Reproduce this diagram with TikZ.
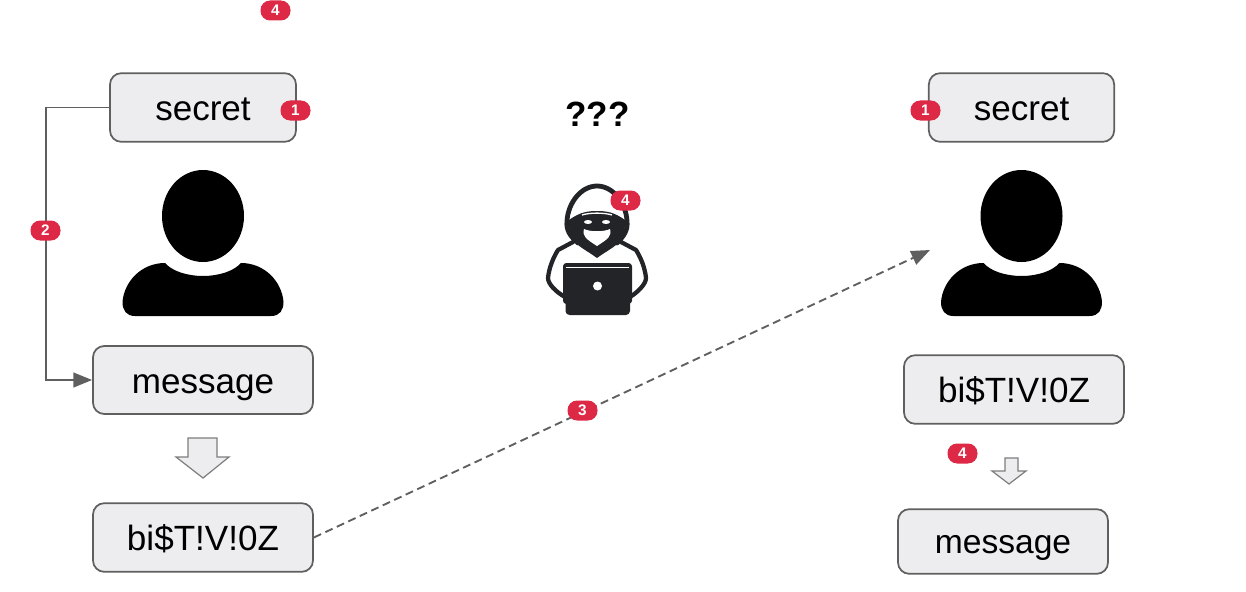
\documentclass[tikz,border=0pt]{standalone}
\usepackage{fontspec}
\setmainfont{Liberation Sans}
\usetikzlibrary{arrows.meta}
\definecolor{msgred}{RGB}{221,40,70}
\definecolor{msgfill}{RGB}{237,237,239}
\definecolor{msgline}{RGB}{95,95,95}
\definecolor{msgarrow}{RGB}{125,125,125}
\definecolor{msgblack}{RGB}{34,36,40}
\tikzset{
  msgbox/.style={draw=msgline, line width=1.3pt, fill=msgfill, rounded corners=8.5pt,
    inner sep=0pt, text=black, text height=20pt, text depth=0pt,
    font=\fontsize{26.3}{30}\selectfont},
  badge/.style={fill=msgred, rounded corners=7.2pt, minimum width=22.5pt, minimum height=15pt,
    inner sep=0pt, text=white, font=\fontsize{11.5}{12}\bfseries\selectfont},
  link/.style={draw=msgline, line width=1.4pt},
  linktip/.style={-{Triangle[length=14pt, width=11pt]}},
  blockdown/.style={draw=msgarrow, line width=0.9pt, fill=msgfill},
  hoodline/.style={msgblack, line cap=round, line join=round},
  person/.pic={
    \fill[black] (0,0) ellipse [x radius=41, y radius=46];
    \fill[black] (-68,100) .. controls (-77,100) and (-80.5,94) .. (-80.5,86)
      .. controls (-79,66) and (-62,47) .. (-38,47)
      .. controls (-31,55) and (-16,60) .. (0,60)
      .. controls (16,60) and (31,55) .. (38,47)
      .. controls (62,47) and (79,66) .. (80.5,86)
      .. controls (80.5,94) and (77,100) .. (68,100) -- cycle;
  }
}
\begin{document}
\begin{tikzpicture}[x=0.75pt, y=-0.75pt]
  \useasboundingbox (0,0) rectangle (1246,592);

  % Left side
  \node[msgbox, minimum width=139.5pt, minimum height=51.5pt] (secretA) at (203,107.5) {secret};
  \node[msgbox, minimum width=165pt, minimum height=51pt] (messageA) at (203,380) {message};
  \node[msgbox, minimum width=165pt, minimum height=51.5pt] (cipherA) at (203,537.5) {bi\$T!V!0Z};
  \pic at (203,216) {person};
  \draw[blockdown] (188,438) -- (217,438) -- (217,457) -- (229,457) -- (203,478)
    -- (176,457) -- (188,457) -- cycle;

  % Right side
  \node[msgbox, minimum width=139pt, minimum height=51.5pt] (secretB) at (1021.5,107.5) {secret};
  \node[msgbox, minimum width=165pt, minimum height=51.5pt] (cipherB) at (1014,389.5) {bi\$T!V!0Z};
  \node[msgbox, minimum width=157.5pt, minimum height=48.5pt, text height=17.5pt,
    font=\fontsize{25.2}{30}\selectfont] (messageB) at (1003,541.5) {message};
  \pic at (1021.5,216) {person};
  \draw[blockdown] (1005,458) -- (1018,458) -- (1018,471) -- (1026,471) -- (1009,484)
    -- (992,471) -- (1005,471) -- cycle;

  % Eavesdropper
  \node[font=\fontsize{26.3}{30}\bfseries\selectfont] (question) at (597.5,114) {???};
  \draw[hoodline, line width=3.6pt] (578,243)
    .. controls (570,236) and (566,230) .. (567,221)
    .. controls (568,203) and (581,186) .. (597,186)
    .. controls (613,186) and (626,203) .. (627,221)
    .. controls (628,230) and (624,236) .. (617,243);
  \fill[msgblack] (569,220) .. controls (580,212) and (588,211) .. (597,211)
    .. controls (606,211) and (614,212) .. (625,220)
    .. controls (626,232) and (620,243) .. (612,248)
    .. controls (606,252) and (601,255) .. (597,258)
    .. controls (593,255) and (588,252) .. (582,248)
    .. controls (574,243) and (568,232) .. (569,220) -- cycle;
  \draw[white, line width=1pt] (582,215) .. controls (590,212.5) and (604,212.5) .. (612,215);
  \fill[white] (584,229) .. controls (590,232) and (604,232) .. (610,229)
    .. controls (612,236) and (608,239) .. (597,246)
    .. controls (586,239) and (582,236) .. (584,229) -- cycle;
  \fill[white] (588,222) ellipse [x radius=4, y radius=2];
  \fill[white] (606,222) ellipse [x radius=4, y radius=2];
  \draw[hoodline, line width=3.2pt] (573,242)
    -- (558,250) .. controls (553,258) and (549,268) .. (548,278)
    .. controls (548,284) and (556,292) .. (565,297);
  \draw[hoodline, line width=3.2pt] (621,242)
    -- (636,250) .. controls (641,258) and (645,268) .. (646,278)
    .. controls (646,284) and (638,292) .. (630,297);
  \fill[msgblack, rounded corners=2.5pt] (563,263) rectangle (632,304);
  \fill[msgblack, rounded corners=3pt] (565.5,300) rectangle (630,315);
  \draw[white, line width=0.5pt] (566,267) -- (629,267);
  \fill[white] (597.5,286) circle [radius=4.5];

  % Connectors
  \coordinate (bend) at (46,380);
  \coordinate (receiver) at (930,250);
  \draw[link, linktip] (secretA.west) -| (bend) -- (messageA.west);
  \draw[link, linktip, dash pattern=on 6pt off 3.5pt] (cipherA.east) -- (receiver);

  % Step badges
  \node[badge] (stepA) at (275.5,10.5) {4};
  \node[badge] (stepB) at (295.5,110.5) {1};
  \node[badge] (stepC) at (45.5,230.5) {2};
  \node[badge] (stepD) at (625.5,200.5) {4};
  \node[badge] (stepE) at (925.5,110.5) {1};
  \node[badge] (stepF) at (582.5,410.5) {3};
  \node[badge] (stepG) at (962.5,453.5) {4};
\end{tikzpicture}
\end{document}
